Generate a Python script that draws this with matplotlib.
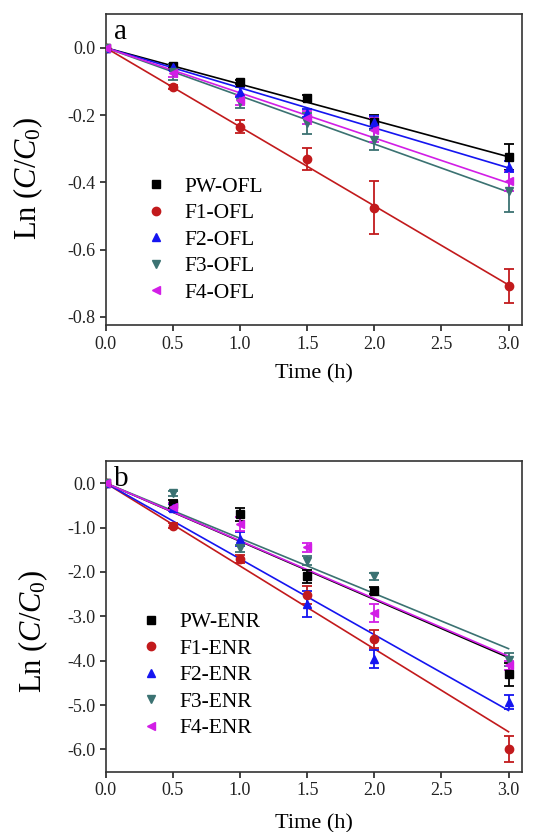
import numpy as np
import matplotlib
matplotlib.use("Agg")
import matplotlib.pyplot as plt

plt.rcParams['font.family'] = ['Liberation Serif', 'DejaVu Serif']
plt.rcParams['mathtext.fontset'] = 'custom'
plt.rcParams['mathtext.rm'] = 'Liberation Serif'
plt.rcParams['mathtext.it'] = 'Liberation Serif:italic'

# Sampling times (h)
time_h = [0.0, 0.5, 1.0, 1.5, 2.0, 3.0]

# Panel a: OFL
ofl_labels = ["PW-OFL", "F1-OFL", "F2-OFL", "F3-OFL", "F4-OFL"]
ofl_pw = [0.0, -0.054, -0.103, -0.149, -0.220, -0.325]
ofl_f1 = [0.0, -0.118, -0.234, -0.331, -0.476, -0.709]
ofl_f2 = [0.0, -0.058, -0.131, -0.195, -0.222, -0.353]
ofl_f3 = [0.0, -0.072, -0.160, -0.225, -0.274, -0.427]
ofl_f4 = [0.0, -0.074, -0.156, -0.208, -0.245, -0.397]
ofl_pw_err = [0.0, 0.005, 0.006, 0.008, 0.020, 0.038]
ofl_f1_err = [0.0, 0.006, 0.020, 0.032, 0.079, 0.050]
ofl_f2_err = [0.0, 0.008, 0.015, 0.012, 0.020, 0.015]
ofl_f3_err = [0.0, 0.025, 0.020, 0.030, 0.030, 0.060]
ofl_f4_err = [0.0, 0.012, 0.015, 0.020, 0.035, 0.030]
ofl_slopes = [-0.108, -0.235, -0.119, -0.143, -0.134]

# Panel b: ENR
enr_labels = ["PW-ENR", "F1-ENR", "F2-ENR", "F3-ENR", "F4-ENR"]
enr_pw = [0.0, -0.47, -0.70, -2.10, -2.42, -4.31]
enr_f1 = [0.0, -0.96, -1.71, -2.52, -3.51, -5.99]
enr_f2 = [0.0, -0.55, -1.26, -2.72, -3.96, -4.93]
enr_f3 = [0.0, -0.23, -1.47, -1.75, -2.10, -3.98]
enr_f4 = [0.0, -0.53, -0.92, -1.45, -2.93, -4.10]
enr_pw_err = [0.0, 0.08, 0.15, 0.15, 0.08, 0.25]
enr_f1_err = [0.0, 0.06, 0.10, 0.20, 0.20, 0.30]
enr_f2_err = [0.0, 0.08, 0.15, 0.30, 0.20, 0.15]
enr_f3_err = [0.0, 0.06, 0.08, 0.10, 0.08, 0.15]
enr_f4_err = [0.0, 0.08, 0.15, 0.10, 0.20, 0.10]
enr_slopes = [-1.31, -1.867, -1.707, -1.243, -1.30]

colors = ["#000000", "#c21a1c", "#1515f0", "#3b7272", "#d21ee6"]
markers = ["s", "o", "^", "v", "<"]

ylabel = r"Ln ($C/C_0$)"


def draw_panel(ax, series, errs, slopes, labels, letter, ylim, yticks,
               legend_anchor, ylabel_xy, xlabel_pad):
    t = np.array(time_h)
    fit_t = np.array([time_h[0], time_h[-1]])
    for y, e, k, lab, c, m in zip(series, errs, slopes, labels, colors, markers):
        ax.plot(fit_t, k * fit_t, color=c, lw=1.2, zorder=2)
        ax.errorbar(t, y, yerr=e, fmt="none", ecolor=c, capsize=3.5,
                    elinewidth=1.3, capthick=1.3, zorder=3)
        ax.plot(t, y, m, color=c, ms=6, ls="none", label=lab, zorder=4)
    ax.set_xlim(0, 3.1)
    ax.set_ylim(*ylim)
    ax.set_xticks([0, 0.5, 1.0, 1.5, 2.0, 2.5, 3.0])
    ax.set_xticklabels(["0.0", "0.5", "1.0", "1.5", "2.0", "2.5", "3.0"])
    ax.set_yticks(yticks)
    ax.set_yticklabels([f"{v:.1f}" for v in yticks])
    ax.tick_params(axis="both", direction="out", length=4, width=1.2,
                   labelsize=13, colors="#222222")
    ax.tick_params(top=False, right=False)
    for s in ax.spines.values():
        s.set_linewidth(1.2)
        s.set_color("#333333")
    ax.set_xlabel("Time (h)", fontsize=16, labelpad=xlabel_pad)
    ax.set_ylabel(ylabel, fontsize=22)
    ax.yaxis.set_label_coords(*ylabel_xy)
    ax.text(0.02, 0.985, letter, transform=ax.transAxes, fontsize=21,
            ha="left", va="top")
    ax.legend(loc="upper left", bbox_to_anchor=legend_anchor, frameon=False,
              fontsize=15.5, handletextpad=0.75, labelspacing=0.3,
              handlelength=1.2, borderaxespad=0)


fig = plt.figure(figsize=(5.37, 8.32), dpi=100)
ax1 = fig.add_axes([0.197, 0.609, 0.775, 0.374])
ax2 = fig.add_axes([0.197, 0.0725, 0.775, 0.3735])

draw_panel(ax1, [ofl_pw, ofl_f1, ofl_f2, ofl_f3, ofl_f4],
           [ofl_pw_err, ofl_f1_err, ofl_f2_err, ofl_f3_err, ofl_f4_err],
           ofl_slopes, ofl_labels, "a", (-0.825, 0.1),
           [0.0, -0.2, -0.4, -0.6, -0.8], (0.068, 0.505), (-0.145, 0.473), 8)
draw_panel(ax2, [enr_pw, enr_f1, enr_f2, enr_f3, enr_f4],
           [enr_pw_err, enr_f1_err, enr_f2_err, enr_f3_err, enr_f4_err],
           enr_slopes, enr_labels, "b", (-6.5, 0.5),
           [0.0, -1.0, -2.0, -3.0, -4.0, -5.0, -6.0], (0.056, 0.541),
           (-0.135, 0.452), 11)

fig.savefig("out.png", dpi=100)
